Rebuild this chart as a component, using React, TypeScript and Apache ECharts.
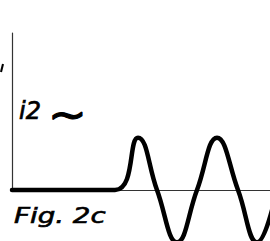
import React, { useEffect, useRef } from "react";
import * as echarts from "echarts";

// time positions (px-like units from the vertical axis) and current amplitude
const waveX = [0, 103, 126, 145, 165, 185, 205, 226, 245, 265];
const waveY = [0, 0, 1, 0, -1, 0, 1, 0, -1, 0];
const signalLabel = "i2";
const tildeLabel = "~";
const figureLabel = "Fig. 2c";

export default function App() {
  const ref = useRef<HTMLDivElement>(null);
  useEffect(() => {
    if (!ref.current) return;
    const chart = echarts.init(ref.current, null, { renderer: "svg" });
    const data = waveX.map((x, i) => [x, waveY[i]]);
    chart.setOption({
      animation: false,
      backgroundColor: "#ffffff",
      grid: { left: 12, right: 0, top: 33, bottom: 51, containLabel: false },
      xAxis: {
        type: "value",
        min: 0,
        max: 258,
        axisLine: { show: true, onZero: false, lineStyle: { color: "#333", width: 1.2 } },
        axisTick: { show: false },
        axisLabel: { show: false },
        splitLine: { show: false },
      },
      yAxis: {
        type: "value",
        min: 0,
        max: 3,
        axisLine: { show: true, lineStyle: { color: "#333", width: 1.2 } },
        axisTick: { show: false },
        axisLabel: { show: false },
        splitLine: { show: false },
      },
      series: [
        {
          type: "line",
          data,
          smooth: 0.45,
          showSymbol: false,
          clip: false,
          lineStyle: { color: "#000", width: 4.5, cap: "round", join: "round" },
        },
      ],
      graphic: [
        {
          type: "text",
          x: 19,
          y: 111,
          style: {
            text: signalLabel,
            font: "italic 24px 'DejaVu Sans'",
            fill: "#000",
            stroke: "#000",
            lineWidth: 0.7,
            textAlign: "left",
            textVerticalAlign: "middle",
          },
        },
        {
          type: "text",
          x: 48,
          y: 114,
          scaleX: 1.1,
          style: {
            text: tildeLabel,
            font: "42px 'DejaVu Sans'",
            fill: "#000",
            stroke: "#000",
            lineWidth: 1.2,
            textAlign: "left",
            textVerticalAlign: "middle",
          },
        },
        {
          type: "text",
          x: 14,
          y: 216,
          scaleX: 1.32,
          style: {
            text: figureLabel,
            font: "italic 21px 'DejaVu Sans'",
            fill: "#000",
            stroke: "#000",
            lineWidth: 0.6,
            textAlign: "left",
            textVerticalAlign: "middle",
          },
        },
        {
          type: "line",
          shape: { x1: 1, y1: 72, x2: 3, y2: 64 },
          style: { stroke: "#000", lineWidth: 2 },
        },
      ],
    });
    return () => chart.dispose();
  }, []);
  return (
    <div
      ref={ref}
      style={{ position: "fixed", left: 0, top: 0, width: 270, height: 241 }}
    />
  );
}
